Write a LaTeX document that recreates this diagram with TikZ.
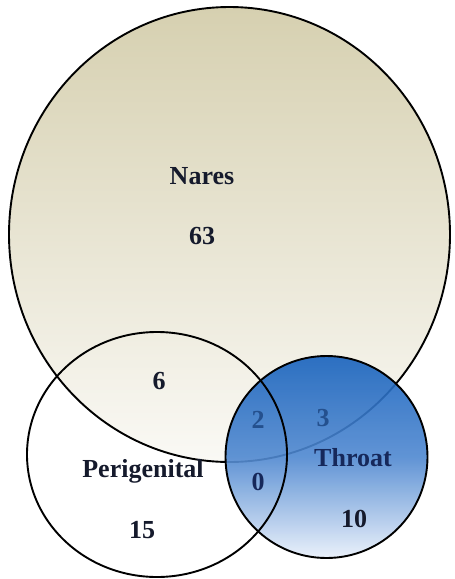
\documentclass[tikz,border=0pt]{standalone}
\usepackage{fontspec}
\setmainfont{Liberation Serif}
\definecolor{naresTop}{HTML}{D6D0B0}
\definecolor{naresBot}{HTML}{FAF9F5}
\definecolor{throatTop}{HTML}{1762BE}
\definecolor{throatMid}{HTML}{4F88D0}
\definecolor{throatBot}{HTML}{E8EFFA}
\definecolor{lbl}{HTML}{151A2C}
\definecolor{lblnavy}{HTML}{16285A}
\definecolor{lblblue}{HTML}{24508E}
\begin{document}
\begin{tikzpicture}[x=1pt,y=-1pt,
  outline/.style={draw=black,line width=1.9pt},
  lab/.style={font=\fontsize{26}{30}\selectfont\bfseries,text=lbl,inner sep=0pt}]
\useasboundingbox (0,0) rectangle (455,579);
% Nares
\shade[top color=naresTop,bottom color=naresBot] (229.5,234.5) ellipse [x radius=220.5,y radius=227.5];
\draw[outline] (229.5,234.5) ellipse [x radius=220.5,y radius=227.5];
% Throat
\shade[top color=throatTop,bottom color=throatBot,middle color=throatMid,opacity=0.9] (326.5,457) circle [radius=101];
\draw[outline] (326.5,457) circle [radius=101];
% Perigenital
\draw[outline] (157,454.5) ellipse [x radius=130,y radius=122.5];
% labels
\node[lab] (nares) at (202,176) {Nares};
\node[lab] (n63) at (202,236) {63};
\node[lab] (n6) at (159,381) {6};
\node[lab] (peri) at (143,471) {Perigenital};
\node[lab] (n15) at (142,530) {15};
\node[lab,text=lblblue] (n2) at (258,420) {2};
\node[lab,text=lblblue] (n3) at (323,418) {3};
\node[lab,text=lblnavy] (throat) at (353,458) {Throat};
\node[lab,text=lblnavy] (n0) at (258,482) {0};
\node[lab] (n10) at (354,519) {10};
\end{tikzpicture}
\end{document}
